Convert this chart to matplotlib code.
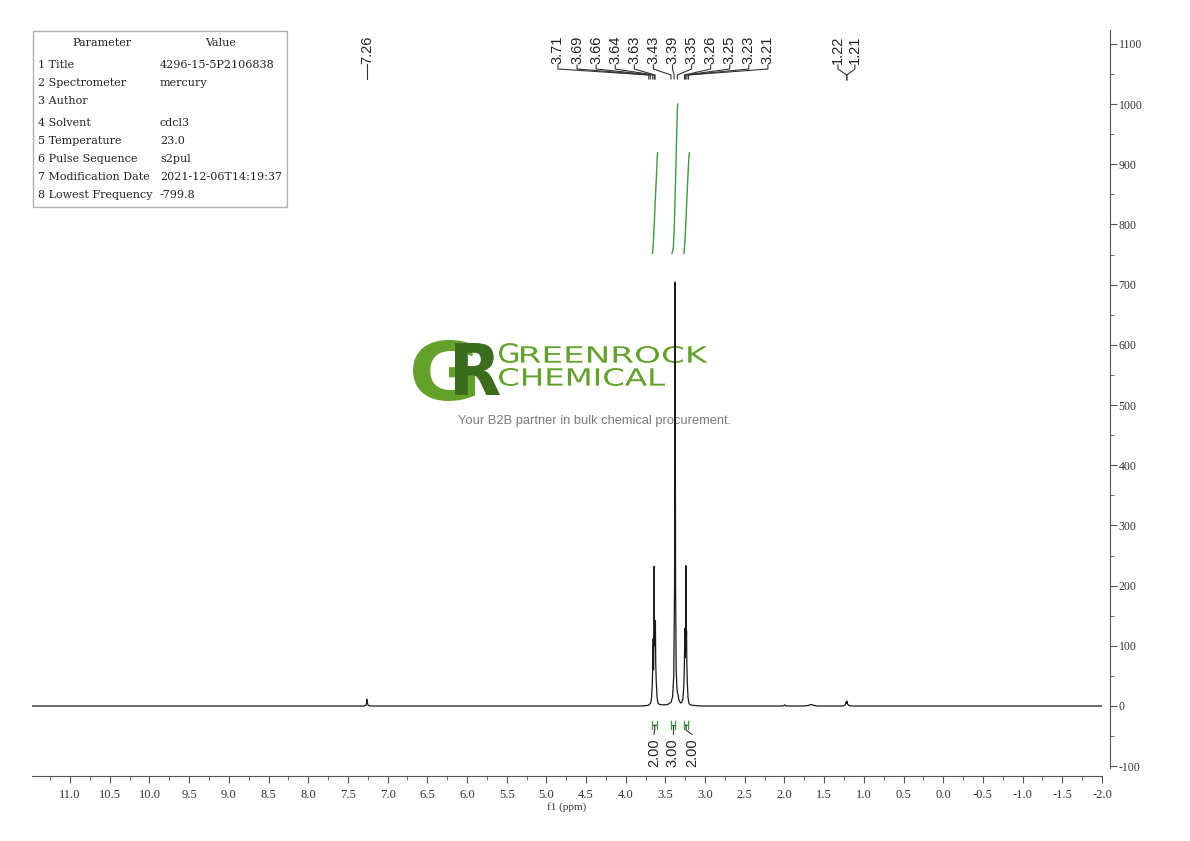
import numpy as np
import matplotlib
matplotlib.use('Agg')
import matplotlib.pyplot as plt
from matplotlib.textpath import TextPath
from matplotlib.font_manager import FontProperties
from matplotlib.patches import PathPatch, Rectangle
from matplotlib.transforms import Affine2D, blended_transform_factory
from matplotlib.ticker import MultipleLocator, FormatStrFormatter

plt.rcParams['axes.unicode_minus'] = False

# spectrum trace (ppm, intensity)
spec_ppm = [11.48, 7.30, 7.275, 7.265, 7.26, 7.255, 7.245, 7.22,
            3.95, 3.80, 3.72, 3.70, 3.685, 3.675, 3.665, 3.658, 3.654, 3.650,
            3.646, 3.642, 3.638, 3.634, 3.630, 3.626, 3.622, 3.615, 3.605,
            3.595, 3.58, 3.55, 3.48, 3.43, 3.41, 3.395, 3.385, 3.378, 3.372,
            3.365, 3.355, 3.348, 3.340, 3.330, 3.31, 3.295, 3.28, 3.27, 3.262,
            3.255, 3.250, 3.246, 3.242, 3.238, 3.234, 3.230, 3.224, 3.215,
            3.205, 3.19, 3.15, 3.05, 2.02, 1.995, 1.985, 1.75, 1.70, 1.665,
            1.63, 1.58, 1.26, 1.235, 1.222, 1.218, 1.212, 1.205, 1.19, 1.16,
            -2.0]
spec_int = [0, 0, 1, 5, 11, 5, 1, 0,
            0, 0, 1, 3, 5, 14, 38, 80, 112, 60,
            90, 232, 100, 143, 120, 140, 70, 38, 14,
            5, 3, 2, 2, 6, 15, 50, 200, 704, 200,
            60, 30, 22, 18, 10, 5, 6, 12, 30, 60,
            129, 80, 110, 233, 100, 125, 70, 38, 14,
            5, 2, 1, 0, 0, 2, 0, 0, 1, 2.5,
            1, 0, 0, 2, 7, 5, 8, 3, 1, 0,
            0]

# integration curves
int1_ppm = [3.665, 3.660, 3.650, 3.640, 3.630, 3.620, 3.610, 3.603, 3.598]
int1_val = [752, 756, 775, 803, 833, 862, 890, 914, 919]
int2_ppm = [3.418, 3.410, 3.400, 3.390, 3.380, 3.370, 3.360, 3.350, 3.344]
int2_val = [752, 755, 762, 790, 835, 885, 938, 990, 1000]
int3_ppm = [3.268, 3.263, 3.253, 3.243, 3.233, 3.223, 3.213, 3.203, 3.198]
int3_val = [752, 756, 775, 803, 833, 862, 890, 914, 919]

# integration brackets and values
int_ranges = [(3.67, 3.60), (3.43, 3.38), (3.27, 3.21)]
int_labels = ['2.00', '3.00', '2.00']
int_label_ppm = [3.645, 3.405, 3.166]

# peak picking labels
group_labels = ['3.71', '3.69', '3.66', '3.64', '3.63', '3.43', '3.39',
                '3.35', '3.26', '3.25', '3.23', '3.21']
group_peaks = [3.71, 3.69, 3.66, 3.64, 3.63, 3.43, 3.39, 3.35, 3.26, 3.25,
               3.23, 3.21]
me_labels = ['1.22', '1.21']
me_peaks = [1.22, 1.21]

param_names = ['1 Title', '2 Spectrometer', '3 Author', '4 Solvent',
               '5 Temperature', '6 Pulse Sequence', '7 Modification Date',
               '8 Lowest Frequency']
param_values = ['4296-15-5P2106838', 'mercury', '', 'cdcl3', '23.0', 's2pul',
                '2021-12-06T14:19:37', '-799.8']

fig = plt.figure(figsize=(11.9, 8.41), dpi=100)

# pixel overlay for watermark and table
bg = fig.add_axes([0, 0, 1, 1], zorder=0)
bg.set_xlim(0, 1190)
bg.set_ylim(841, 0)
bg.axis('off')


def fit_text(ax, s, box, color, weight='bold', family='DejaVu Sans'):
    tp = TextPath((0, 0), s, size=100, prop=FontProperties(family=family, weight=weight))
    bb = tp.get_extents()
    x0, y0, x1, y1 = box
    tr = Affine2D().translate(-bb.x0, -bb.y1).scale((x1 - x0) / bb.width, -(y1 - y0) / bb.height).translate(x0, y0)
    ax.add_patch(PathPatch(tr.transform_path(tp), fc=color, ec='none'))


fit_text(bg, 'G', (413, 340, 475, 401), '#62a22a')
fit_text(bg, 'R', (455, 343, 500, 395), '#3b6d1d')
fit_text(bg, 'G', (499, 343, 518, 363), '#62a22a', weight='normal')
fit_text(bg, 'REENROCK', (521, 346, 708, 363), '#62a22a', weight='normal')
fit_text(bg, 'CHEMICAL', (499, 368, 665, 386), '#62a22a', weight='normal')
bg.text(595, 421, 'Your B2B partner in bulk chemical procurement.', ha='center',
        va='center', fontsize=9.3, color='#7a7a7a', family='Liberation Sans')

# parameter table
bg.add_patch(Rectangle((33, 31), 254, 176, fc='white', ec='#b0b0b0', lw=1))
tfont = dict(family='DejaVu Serif', fontsize=8, color='#222222', va='center')
bg.text(102, 43, 'Parameter', ha='center', **tfont)
bg.text(221, 43, 'Value', ha='center', **tfont)
row_y = [65, 83, 101, 123, 141, 159, 177, 195]
for yy, name, val in zip(row_y, param_names, param_values):
    bg.text(38, yy, name, ha='left', **tfont)
    bg.text(160, yy, val, ha='left', **tfont)

# main spectrum axes
ax = fig.add_axes([32 / 1190, 73 / 841, 1070 / 1190, 738 / 841], zorder=1)
ax.set_facecolor('none')
ax.plot(spec_ppm, spec_int, color='#1a1a1a', lw=0.9)
for p, v in [(int1_ppm, int1_val), (int2_ppm, int2_val), (int3_ppm, int3_val)]:
    ax.plot(p, v, color='#3c9a3c', lw=1.0)

ax.set_xlim(11.48, -2.0)
ax.set_ylim(-103, 1123)

for side in ['top', 'left']:
    ax.spines[side].set_visible(False)
ax.spines['right'].set_position(('outward', 6))
ax.spines['bottom'].set_position(('outward', 6))
for side in ['right', 'bottom']:
    ax.spines[side].set_color('#555555')
ax.yaxis.tick_right()
ax.xaxis.set_major_locator(MultipleLocator(0.5))
ax.xaxis.set_minor_locator(MultipleLocator(0.25))
ax.yaxis.set_major_locator(MultipleLocator(100))
ax.yaxis.set_minor_locator(MultipleLocator(50))
ax.xaxis.set_major_formatter(FormatStrFormatter('%.1f'))
ax.tick_params(which='major', direction='out', length=5, color='#555555', labelcolor='#333333')
ax.tick_params(which='minor', direction='out', length=3, color='#555555')
ax.tick_params(axis='x', labelsize=9, pad=4)
ax.tick_params(axis='y', labelsize=8.5, pad=1)
for lab in ax.get_xticklabels() + ax.get_yticklabels():
    lab.set_family('Liberation Serif')
ax.set_xlabel('f1 (ppm)', fontsize=8, family='Liberation Serif', labelpad=1, color='#333333')

# peak labels along the top
tr = blended_transform_factory(ax.transData, ax.transAxes)


def fy(p):
    return (768 - p) / 738


lab_font = dict(family='Liberation Sans', fontsize=10.5, color='#222222', rotation=90,
                ha='center', va='bottom', transform=tr)
lab_x = np.linspace(4.854, 2.209, len(group_labels))
for lx, s, pk in zip(lab_x, group_labels, group_peaks):
    ax.text(lx, fy(64), s, **lab_font)
    ax.plot([lx, lx, pk, pk], [fy(65), fy(69), fy(75), fy(79)], color='#333333', lw=0.8,
            transform=tr, clip_on=False)

ax.text(7.26, fy(64), '7.26', **lab_font)
ax.plot([7.26, 7.26], [fy(64), fy(79)], color='#333333', lw=0.8, transform=tr, clip_on=False)

for lx, s, pk in zip([1.327, 1.113], me_labels, me_peaks):
    ax.text(lx, fy(64), s, **lab_font)
    ax.plot([lx, lx, 1.215, 1.215], [fy(65), fy(69), fy(75), fy(80)], color='#333333',
            lw=0.8, transform=tr, clip_on=False)

# integration brackets
for (a, b), s, lx in zip(int_ranges, int_labels, int_label_ppm):
    c = (a + b) / 2
    ax.plot([a, a], [-25, -38], color='#3c9a3c', lw=0.9)
    ax.plot([b, b], [-25, -38], color='#3c9a3c', lw=0.9)
    ax.plot([a, b], [-31.6, -31.6], color='#3c9a3c', lw=0.9)
    ax.plot([c, c, lx], [-31.6, -40, -47], color='#333333', lw=0.8)
    ax.text(lx, -53, s, family='Liberation Sans', fontsize=10.5, color='#222222',
            rotation=90, ha='center', va='top')

fig.savefig('out.png', dpi=100)
